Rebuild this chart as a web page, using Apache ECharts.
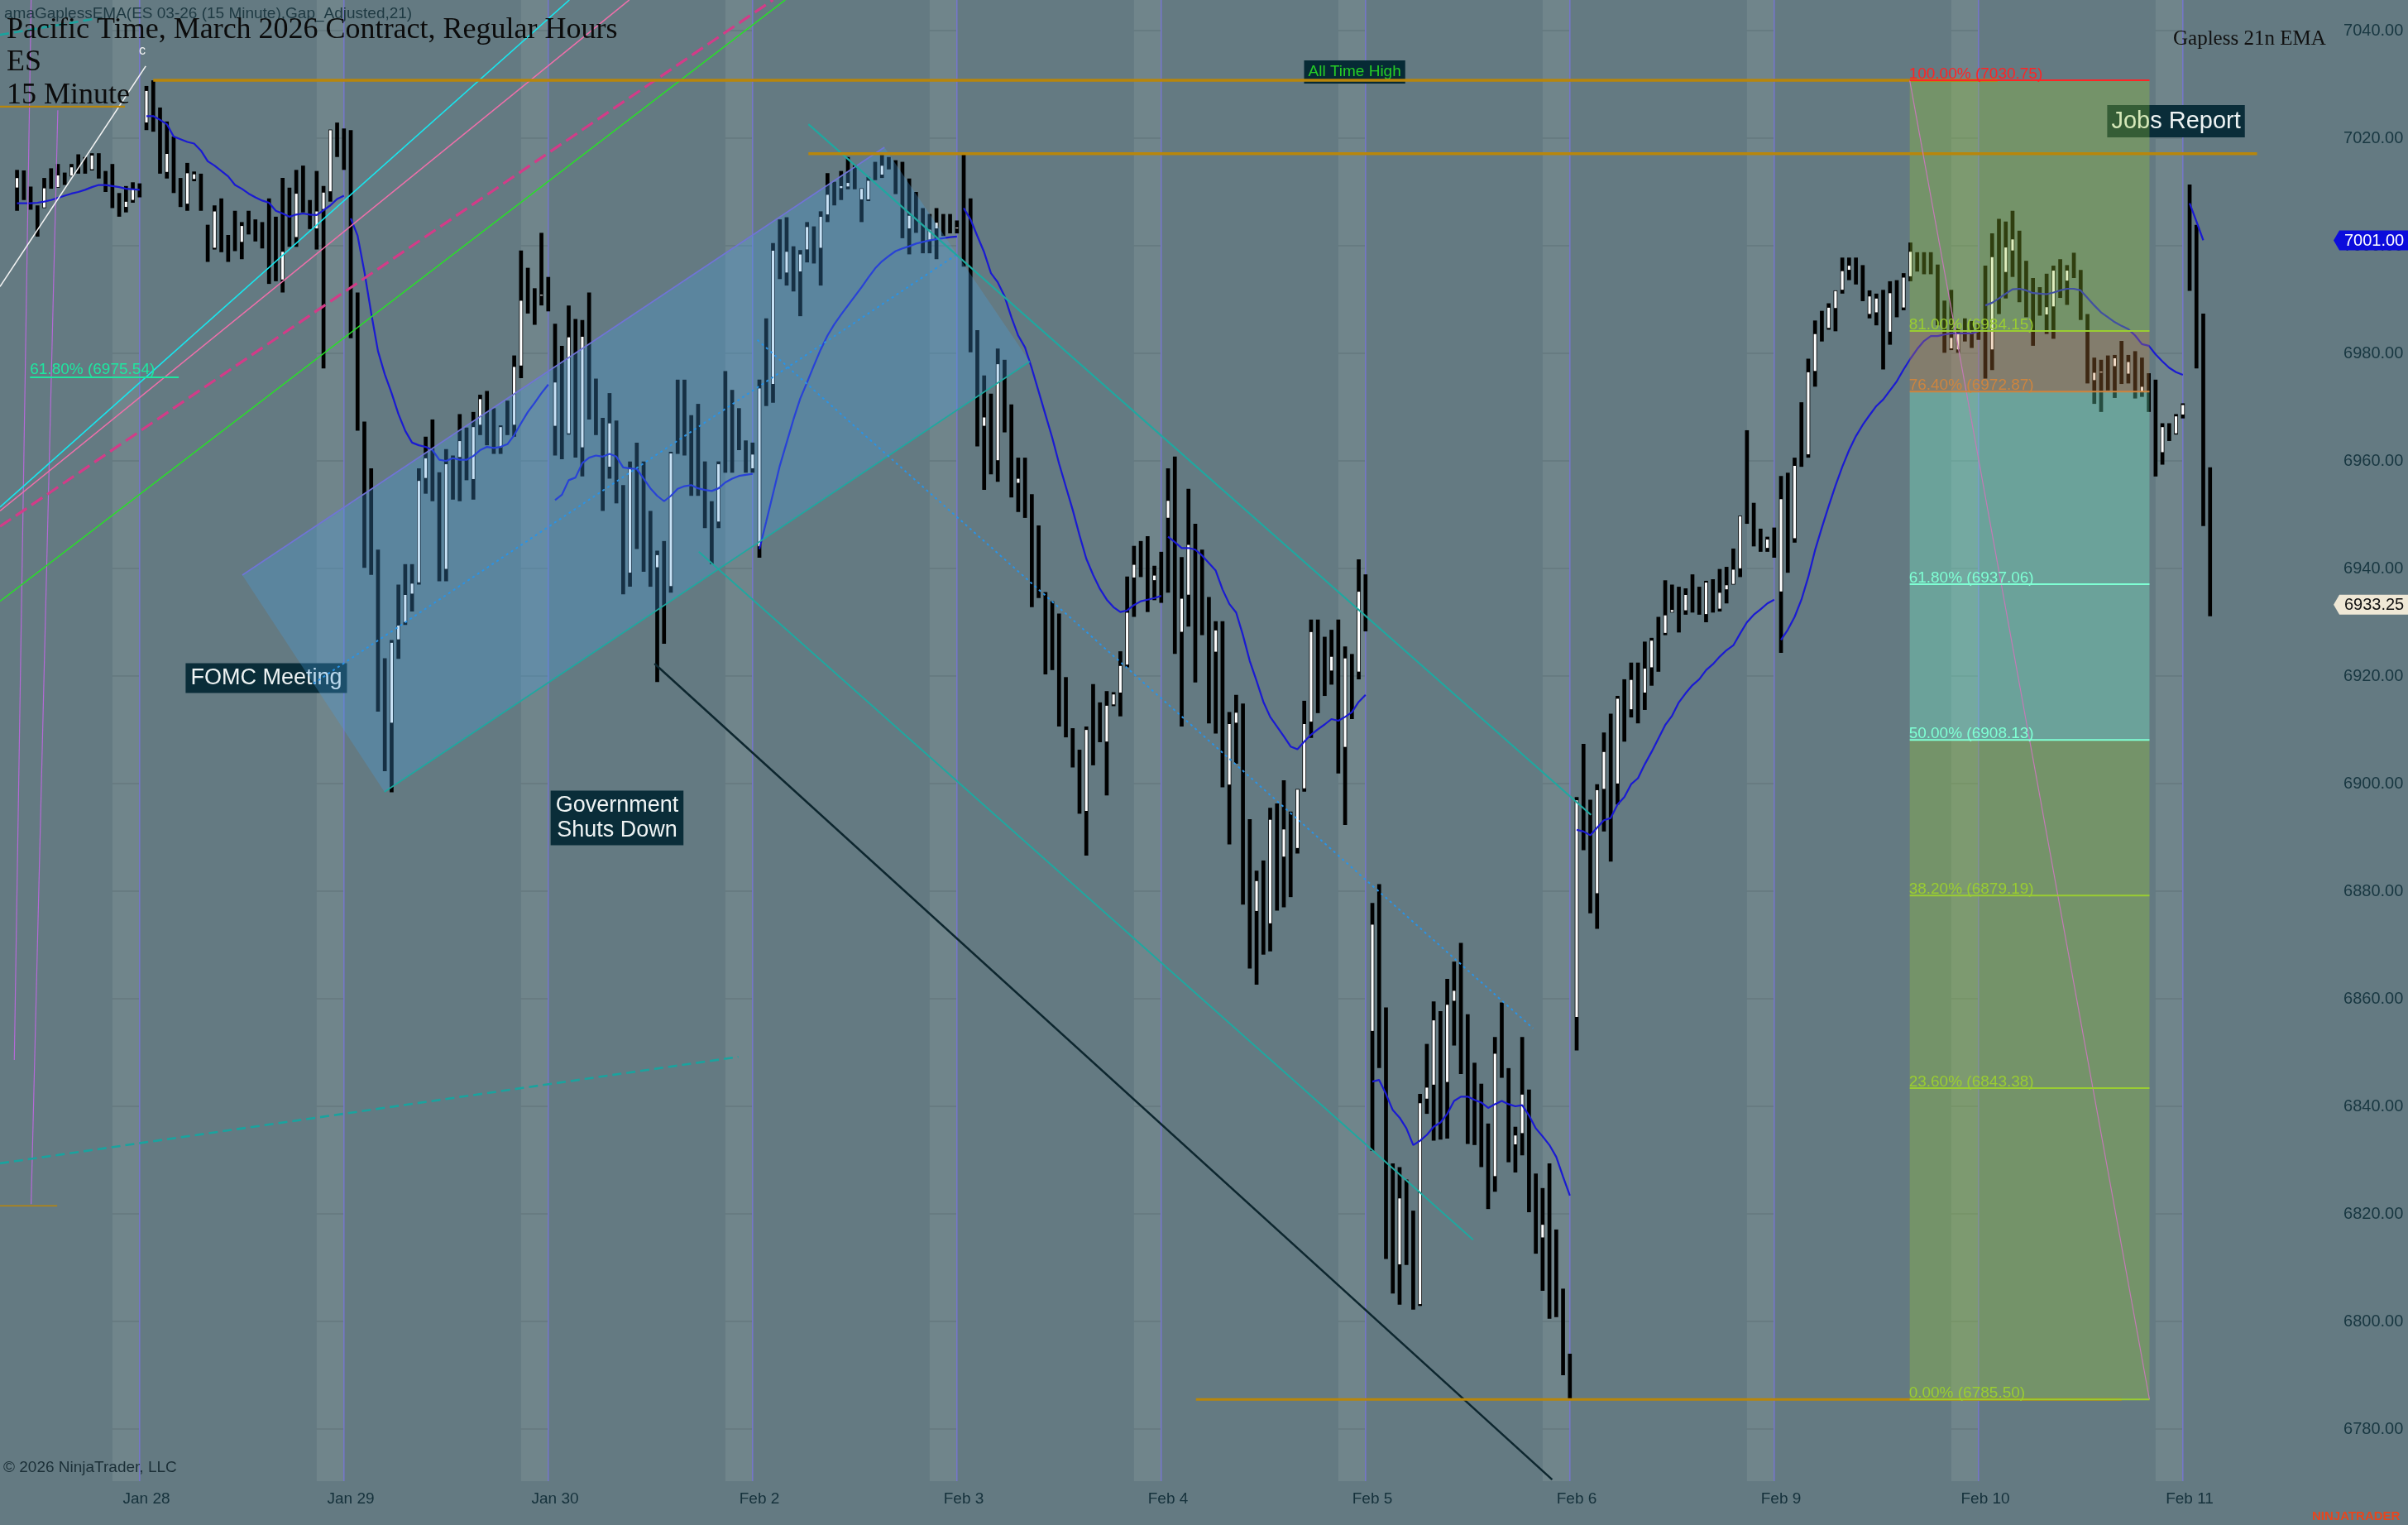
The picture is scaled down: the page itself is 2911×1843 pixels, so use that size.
<!DOCTYPE html>
<html><head><meta charset="utf-8">
<script src="https://cdn.jsdelivr.net/npm/echarts/dist/echarts.min.js"></script>
<style>html,body{margin:0;padding:0;background:#647a82;overflow:hidden}#c{width:2911px;height:1843px}</style>
</head><body><div id="c"></div><script>
// ---------------- DATA ----------------
const dayLabels = ['Jan 27','Jan 28','Jan 29','Jan 30','Feb 2','Feb 3','Feb 4','Feb 5','Feb 6','Feb 9','Feb 10','Feb 11'];
const dayFirstBar = [11,0,0,0,0,0,0,0,0,0,0,0];
const priceTicks = [6780,6800,6820,6840,6860,6880,6900,6920,6940,6960,6980,7000,7020,7040];
// bars: [high, low] (down bar) or [high, low, open, close]
const barsJan27 = [[7014.1,7006.5,7010.7,7012.7],[7014.0,7008.5],[7011.0,7006.7],[7007.5,7001.7],[7012.6,7007.0,7007.0,7010.8],[7014.4,7010.6],[7015.2,7010.8,7010.8,7013.2],[7013.6,7011.3],[7015.2,7012.9,7012.9,7014.7],[7017.0,7013.4],[7016.5,7013.4],[7017.2,7014.0,7014.1,7016.9],[7017.2,7012.5],[7013.9,7010.0],[7015.2,7007.0],[7009.8,7005.4],[7011.1,7006.2,7007.1,7008.3],[7011.8,7008.0,7008.4,7010.6],[7011.6,7009.0]];
const barsJan28 = [[7029.7,7021.5,7022.8,7028.9],[7030.75,7021.2],[7025.7,7013.4],[7023.1,7012.5,7013.6,7017.2],[7020.3,7009.8],[7012.6,7007.2],[7015.4,7006.5,7007.7,7013.6],[7013.8,7012.0,7012.3,7013.4],[7013.4,7006.5],[7003.9,6997.0],[7007.5,6999.3,6999.5,7006.5],[7008.8,6998.8],[7002.0,6997.0],[7006.5,6999.0],[7004.4,6997.5,7000.6,7003.8],[7006.5,7002.1],[7004.9,7000.8],[7004.4,6999.5],[7008.8,6992.9],[7005.4,6993.4],[7012.6,6991.3,6993.6,6999.0],[7010.8,6999.8],[7014.1,6999.8,7001.5,7009.8],[7014.9,7006.2],[7008.5,7003.1],[7013.9,6999.3,7003.1,7006.5],[7011.1,6977.2,7006.7,7010.0],[7021.6,7008.2,7010.0,7021.6],[7022.9,7016.5],[7021.8,7014.1]];
const barsJan29 = [[7021.5,6982.8],[6991.3,6965.6],[6967.3,6940.1],[6958.6,6938.8],[6943.5,6913.4],[6923.3,6902.3],[6926.7,6898.4,6911.2,6926.3],[6937.0,6923.2,6926.7,6929.5],[6940.8,6929.5,6929.9,6935.2],[6940.8,6932.0,6935.2,6937.3],[6958.6,6937.0,6937.3,6956.4],[6964.5,6953.9,6956.7,6960.6],[6967.7,6952.5],[6957.9,6937.6],[6962.2,6937.6,6939.8,6959.5],[6961.0,6952.8],[6968.7,6952.5,6960.6,6963.8],[6966.2,6956.4],[6969.1,6952.8,6956.5,6966.4],[6972.3,6964.8,6966.6,6971.6],[6973.0,6962.9],[6969.8,6961.3],[6966.6,6961.3,6962.4,6966.4],[6971.2,6964.8],[6979.6,6964.5,6966.6,6977.6],[6999.1,6975.4,6977.6,6989.9],[6995.9,6987.4],[6992.1,6985.3],[7002.4,6988.9,6990.6,6991.0],[6994.2,6987.8]];
const barsJan30 = [[6985.5,6961.0,6966.4,6974.7],[6981.4,6960.3],[6988.9,6964.9,6965.0,6983.1],[6986.4,6960.6],[6986.2,6957.1,6962.4,6983.2],[6991.3,6967.7],[6975.3,6964.8],[6968.0,6950.7],[6972.6,6956.7,6958.8,6967.1],[6967.5,6952.1],[6955.5,6935.2],[6959.9,6936.6,6939.1,6958.8],[6963.4,6943.6],[6959.9,6939.4],[6950.7,6936.6],[6943.3,6918.9,6940.1,6942.6],[6945.1,6926.0],[6961.7,6935.5,6936.6,6961.5],[6975.1,6961.3],[6975.1,6961.0],[6968.5,6953.5],[6970.6,6953.5],[6959.9,6947.5],[6952.5,6940.8],[6959.9,6947.5,6948.6,6959.5],[6976.7,6957.8],[6973.2,6957.8],[6969.8,6962.0],[6963.8,6957.8],[6963.4,6957.8,6958.5,6961.3]];
const barsFeb2 = [[6975.1,6942.0,6944.0,6973.6],[6986.5,6970.2],[7000.5,6970.8,6974.2,6999.2],[7004.9,6993.8],[7005.3,6992.6,6994.9,6999.0],[6999.9,6991.5],[6999.2,6986.9,6995.1,6998.5],[7004.4,6996.9,6999.2,7003.6],[7003.6,6996.7],[7006.4,6992.6,6999.5,7005.5],[7013.5,7004.4,7005.7,7009.6],[7011.9,7007.5],[7013.9,7008.5,7010.6,7011.2],[7016.5,7010.5,7010.9,7011.8],[7015.0,7010.5],[7010.7,7004.4,7008.5,7010.7],[7012.8,7008.3,7008.5,7012.2],[7015.6,7012.2],[7016.9,7012.6,7013.1,7015.0],[7016.5,7014.2],[7015.9,7009.6],[7015.6,7001.4],[7012.5,6998.4,7003.1,7005.7],[7010.0,7002.4],[7007.0,6998.6],[7005.9,6998.6,7001.0,7003.1],[7007.0,6997.5,7003.1,7004.4],[7005.9,7001.8],[7005.9,7002.3],[7004.7,7002.3,7003.1,7003.5]];
const barsFeb3 = [[7017.0,6996.1],[7008.8,6980.2],[6984.3,6962.7],[6975.9,6954.6,6966.4,6968.2],[6972.5,6957.5],[6980.9,6956.1,6960.0,6978.1],[6978.8,6965.3],[6970.5,6953.2],[6960.6,6950.5,6955.8,6956.8],[6960.6,6949.4],[6953.8,6932.8],[6948.0,6934.5],[6935.6,6920.3],[6933.9,6921.1],[6931.6,6910.6],[6919.8,6908.6],[6910.3,6903.0],[6906.3,6894.4],[6910.6,6886.6,6894.8,6910.1],[6918.5,6903.4],[6915.1,6907.7],[6917.2,6897.8,6907.7,6914.6],[6917.0,6914.4,6914.6,6916.7],[6924.6,6912.5,6916.8,6922.0],[6938.5,6921.6,6922.0,6931.9],[6944.2,6931.0,6938.2,6940.8],[6945.1,6938.4],[6946.0,6931.9],[6940.5,6934.1,6937.7,6938.8],[6943.1,6933.6]];
const barsFeb4 = [[6958.6,6935.5,6949.3,6952.7],[6960.8,6924.1],[6942.1,6910.6,6928.1,6934.5],[6954.8,6929.2,6935.0,6944.5],[6948.3,6918.8],[6943.5,6927.6],[6934.7,6911.2],[6930.2,6909.3,6924.4,6928.6],[6930.2,6899.3],[6913.3,6888.7,6899.7,6911.2],[6916.5,6903.7,6911.2,6913.3],[6914.9,6877.5],[6893.4,6865.6],[6883.8,6862.6,6876.2,6882.0],[6885.7,6868.2],[6895.5,6868.8,6873.9,6893.4],[6896.3,6876.4],[6900.6,6877.0,6886.3,6891.6],[6894.8,6878.9],[6899.0,6887.0,6887.9,6899.0],[6915.4,6898.5,6899.0,6911.2],[6930.5,6908.5,6911.4,6928.3],[6930.5,6913.1],[6927.3,6916.3],[6928.6,6918.4,6920.9,6923.7],[6930.5,6901.9],[6925.5,6892.3,6906.7,6923.4],[6924.1,6912.0],[6941.7,6919.4,6920.7,6935.8],[6938.9,6928.3]];
const barsFeb5 = [[6877.8,6831.7,6853.9,6873.9],[6881.3,6847.1],[6858.4,6811.6],[6829.4,6805.2],[6828.7,6803.1,6810.5,6823.0],[6826.4,6810.5],[6820.6,6802.2],[6842.3,6802.9,6803.1,6840.7],[6851.6,6838.6,6841.3,6843.6],[6859.5,6833.6,6843.9,6856.1],[6857.7,6833.8],[6863.7,6834.0,6844.4,6859.0],[6866.9,6851.3,6859.5,6861.6],[6870.4,6846.0],[6857.1,6833.0],[6848.1,6832.8],[6844.2,6828.7],[6836.8,6820.9],[6852.9,6824.1,6826.9,6849.9],[6859.3,6845.3],[6847.1,6829.6],[6836.2,6827.7,6832.8,6834.7],[6852.9,6830.9,6834.9,6842.3],[6843.1,6820.3],[6827.5,6812.6],[6824.8,6805.7,6815.5,6818.1],[6829.4,6800.5],[6817.1,6800.8],[6806.1,6790.0],[6794.0,6785.5]];
const barsFeb6 = [[6897.5,6850.4,6856.5,6897.0],[6907.4,6887.6],[6897.0,6875.9],[6899.9,6873.0,6879.5,6898.9],[6909.5,6891.1,6898.9,6906.0],[6913.0,6885.5],[6916.3,6896.1,6899.9,6915.9],[6919.4,6907.8],[6922.5,6912.3,6913.7,6919.4],[6922.5,6911.2],[6926.4,6913.7,6916.8,6921.5],[6927.1,6918.2,6921.5,6926.7],[6931.0,6920.8],[6937.8,6927.6,6927.9,6931.4],[6937.0,6931.8,6931.8,6932.4],[6936.6,6928.1],[6936.3,6931.4,6932.1,6935.2],[6938.9,6931.8],[6936.6,6931.4],[6937.7,6930.0,6931.4,6937.5],[6938.0,6931.8],[6939.9,6932.0,6932.4,6935.6],[6940.3,6933.5,6936.0,6937.0],[6943.7,6937.0,6937.0,6939.9],[6949.8,6938.4,6939.9,6949.8],[6965.7,6948.3],[6952.2,6944.1],[6947.4,6943.1],[6945.9,6943.1,6943.7,6945.5],[6947.6,6942.0]];
const barsFeb9 = [[6957.2,6924.3,6935.6,6953.0],[6957.8,6939.2],[6960.6,6944.8,6945.5,6959.2],[6970.9,6958.9],[6979.0,6960.6,6961.1,6976.6],[6986.1,6973.8,6976.6,6983.7],[6987.9,6982.2],[6989.3,6984.4,6984.6,6988.6],[6991.7,6984.1,6988.3,6991.7],[6997.8,6991.1,6991.7,6995.4],[6997.8,6993.6,6995.4,6996.4],[6997.8,6992.8],[6996.4,6989.7],[6991.7,6986.5,6987.2,6990.7],[6991.1,6985.2,6987.5,6990.3],[6991.8,6977.0],[6993.4,6981.6,6983.9,6991.3],[6993.6,6986.7],[6994.9,6988.0,6988.4,6994.2],[7000.6,6993.4,6994.2,6999.0],[6998.8,6995.2],[6998.8,6994.7],[6998.8,6994.7],[6996.5,6985.2],[6989.8,6980.1],[6991.8,6980.6,6980.8,6983.0],[6984.6,6980.1,6980.6,6983.9],[6986.5,6982.2],[6986.0,6981.0],[6985.5,6982.5]];
const barsFeb10 = [[6996.3,6975.3],[7002.3,6976.9,6980.6,6998.0],[7005.0,6987.3],[7004.5,6990.2,6995.0,6999.8],[7006.5,6994.2,6999.0,7001.3],[7002.8,6989.5],[6997.2,6986.7],[6994.0,6981.4],[6992.3,6987.0],[6994.8,6983.6,6987.1,6988.7],[6996.3,6982.7,6988.6,6995.5],[6997.5,6990.3],[6996.4,6989.0,6993.4,6995.5],[6998.7,6994.0],[6995.5,6986.2],[6987.3,6974.4],[6979.2,6970.6,6974.9,6976.5],[6978.8,6969.1,6976.3,6976.7],[6979.6,6973.1],[6979.7,6971.7,6977.5,6979.2],[6982.3,6974.3],[6979.7,6974.4,6976.1,6978.5],[6980.4,6971.6],[6979.2,6971.9,6972.7,6973.9],[6976.3,6969.1],[6975.1,6957.1],[6967.0,6959.3,6961.5,6966.4],[6967.0,6963.7],[6968.7,6964.9,6965.0,6968.4],[6970.7,6967.9,6968.5,6970.5]];
const barsFeb11 = [[7011.4,6991.6],[7003.9,6977.2],[6987.4,6947.9],[6958.8,6931.1,6957.5,6933.25]];

const emaJan27 = [7007.9,7007.9,7007.9,7008.0,7008.2,7008.5,7008.9,7009.3,7009.7,7010.0,7010.4,7010.9,7011.3,7011.3,7011.1,7010.9,7010.6,7010.5,7010.4];
const emaJan28 = [7024.1,7024.1,7023.4,7022.6,7020.3,7019.8,7019.3,7019.0,7017.7,7015.7,7014.9,7013.9,7012.9,7011.3,7010.6,7009.7,7009.0,7008.4,7008.0,7006.5,7006.0,7005.4,7005.8,7006.0,7005.8,7005.7,7006.6,7007.5,7008.7,7009.3];
const emaJan29 = [7005.1,7001.9,6995.2,6987.5,6980.4,6976.1,6972.6,6968.7,6965.6,6963.4,6962.9,6962.6,6962.0,6960.2,6960.0,6960.5,6960.2,6960.2,6960.9,6962.0,6962.6,6962.4,6962.6,6963.1,6964.8,6967.0,6969.1,6970.8,6972.6,6974.2];
const emaJan30 = [6952.7,6953.7,6956.4,6956.9,6959.6,6960.6,6961.0,6960.8,6961.3,6960.8,6958.8,6958.6,6958.5,6956.7,6954.9,6953.5,6952.5,6953.5,6954.8,6955.3,6955.5,6954.9,6954.6,6954.4,6954.9,6956.0,6956.7,6957.2,6957.4,6957.6];
const emaFeb2 = [6943.6,6948.7,6953.9,6959.1,6963.4,6967.7,6971.6,6974.6,6977.7,6980.7,6983.3,6985.4,6987.2,6988.9,6990.6,6992.3,6994.1,6995.8,6997.1,6998.1,6999.0,6999.5,6999.9,7000.4,7000.7,7001.0,7001.2,7001.4,7001.6,7001.7];
const emaFeb3 = [7007.0,7004.9,7001.8,6998.8,6994.9,6993.2,6990.6,6986.7,6983.3,6981.1,6977.2,6972.9,6968.6,6964.3,6959.5,6955.2,6950.9,6946.2,6941.8,6938.8,6936.2,6934.2,6932.8,6931.9,6932.2,6933.2,6933.9,6934.2,6934.5,6934.9];
const emaFeb4 = [6945.9,6944.9,6943.8,6943.8,6943.5,6942.4,6941.0,6939.6,6936.1,6933.4,6931.8,6927.6,6922.8,6919.1,6915.2,6912.4,6910.6,6908.8,6906.9,6906.4,6907.8,6909.1,6910.1,6911.0,6912.0,6911.7,6912.4,6913.3,6915.2,6916.5];
const emaFeb5 = [6844.6,6844.9,6842.3,6839.3,6837.9,6835.9,6832.8,6833.6,6834.7,6836.2,6837.0,6838.6,6841.0,6841.8,6841.8,6841.2,6840.7,6839.7,6840.4,6841.0,6840.4,6840.0,6840.2,6838.3,6835.9,6834.4,6832.8,6830.6,6826.9,6823.4];
const emaFeb6 = [6891.4,6891.1,6890.4,6891.8,6893.2,6893.6,6896.1,6897.5,6899.9,6901.0,6903.6,6905.9,6908.4,6910.9,6912.6,6915.1,6916.8,6918.3,6919.4,6921.1,6922.2,6923.6,6924.8,6925.7,6927.9,6930.0,6931.4,6932.4,6933.5,6934.2];
const emaFeb9 = [6926.7,6928.6,6931.0,6934.2,6938.4,6943.4,6947.6,6951.6,6955.4,6958.9,6962.0,6964.6,6966.7,6968.5,6970.2,6971.4,6973.1,6974.8,6977.0,6979.0,6980.8,6982.3,6983.2,6983.2,6983.5,6983.7,6983.7,6983.7,6983.7,6984.1];
const emaFeb10 = [6988.9,6989.4,6990.2,6991.1,6991.9,6992.0,6991.7,6991.2,6991.1,6991.0,6991.3,6991.7,6992.0,6992.0,6991.7,6990.3,6988.9,6987.6,6986.7,6985.8,6985.1,6984.5,6983.3,6981.7,6981.4,6979.8,6978.5,6977.3,6976.5,6976.0];
const emaFeb11 = [7007.9,7004.5,7001.0];

// drawings: endpoints as [bar index, price]
const lineWhiteC = [[-0.5,6992.4],[20.9,7033.4]];
const lineCyan = [[-0.5,6951.4],[83.1,7045.7]];
const linePink = [[-0.5,6950.7],[91.9,7045.7]];
const lineDashedPink = [[-0.5,6947.8],[113.0,7045.7]];
const lineGreen = [[-0.5,6933.9],[114.8,7045.7]];
const lineVioletA = [[4.07,7045.7],[1.6,6848.6]];
const lineVioletB = [[7.99,7025.2],[4.07,6821.8]];
const lineTealDashLow = [[-0.5,6829.4],[107.9,6849.2]];
const lineTealDashTop = [[-0.5,7039.2],[13.9,7042.3]];
const ascUpper = [[35.08,6938.77],[129.35,7018.31]];
const ascLower = [[55.95,6898.46],[150.69,6978.46]];
const ascMid = [[45.52,6918.6],[140.02,6998.4]];
const ascChannel = [[35.08,6938.77,129.35,7018.31,150.69,6978.46,55.95,6898.46]];
const descUpper = [[118.2,7022.6],[233.1,6894.2]];
const descMid = [[110.7,6982.5],[224.6,6854.5]];
const descLower = [[102.1,6943.1],[215.8,6815.2]];
const lineBlack = [[95.6,6922.3],[227.4,6770.6]];
const levelATH = [[22.0,7030.75],[292.8,7030.75]];
const level7017 = [[118.2,7017.1],[330.9,7017.1]];
const levelLow = [[175.1,6785.5],[311.0,6785.5]];
const levelPrevHigh = [[-0.5,7025.85],[17.85,7025.85]];
const levelShortLow = [[-0.5,6821.5],[7.9,6821.5]];
const fibLeft = [[3.9,25.74,6975.54,61.8]];
const fibRange = [279.9,315.1];
const fibLevels = [[100,7030.75],[81,6984.15],[76.4,6972.87],[61.8,6937.06],[50,6908.13],[38.2,6879.19],[23.6,6843.38],[0,6785.50]];
const notePoints = [[38.6,6919.6],[90.1,6893.6],[319.0,7023.15]];
const noteTexts = ['FOMC Meeting','Government\nShuts Down','Jobs Report'];
const athPoint = [[198.4,7032.3]];
const athText = 'All Time High';
const cPoint = [[20.4,7036.2]];

// ---------------- LAYOUT ----------------
const BARS_PER_DAY = 30, OFFSET = 9, N_CATS = 343;
const PLOT_TOP = 7045.69, PLOT_BOTTOM = 6770.31;
const idx = (D, j) => BARS_PER_DAY * D + j - OFFSET;
const sessionTimes = [];
for (let j = 0; j < BARS_PER_DAY; j++) {
  const m = 6 * 60 + 30 + 15 * (j + 1);
  sessionTimes.push(String(Math.floor(m / 60)).padStart(2, '0') + ':' + String(m % 60).padStart(2, '0'));
}
const categories = [];
for (let i = 0; i < N_CATS; i++) {
  const t = i + OFFSET, D = Math.floor(t / BARS_PER_DAY), j = t % BARS_PER_DAY;
  categories.push(dayLabels[D] + ' ' + sessionTimes[j]);
}
const dayBars = [barsJan27,barsJan28,barsJan29,barsJan30,barsFeb2,barsFeb3,barsFeb4,barsFeb5,barsFeb6,barsFeb9,barsFeb10,barsFeb11];
const dayEma = [emaJan27,emaJan28,emaJan29,emaJan30,emaFeb2,emaFeb3,emaFeb4,emaFeb5,emaFeb6,emaFeb9,emaFeb10,emaFeb11];
const candles = [];
dayBars.forEach((bars, D) => bars.forEach((b, m) => {
  const h = b[0], l = b[1], o = b.length > 2 ? b[2] : h, c = b.length > 2 ? b[3] : l;
  candles.push([idx(D, dayFirstBar[D] + m), o, c, l, h]);
}));
const bands = [];
for (let D = 0; D < 11; D++) bands.push([idx(D, 25), idx(D, 29)]);

const FONT = '"Liberation Sans", Arial, sans-serif';
const SERIF = '"Liberation Serif", "Times New Roman", serif';

const series = [];
series.push({
  type: 'custom', xAxisIndex: 1, z: 1, silent: true, data: bands,
  renderItem: (p, api) => {
    const a = api.coord([api.value(0), PLOT_TOP]), b = api.coord([api.value(1), PLOT_BOTTOM]);
    const kids = [{type: 'rect', shape: {x: a[0], y: a[1], width: b[0] - a[0], height: b[1] - a[1]}, style: {fill: '#70858b'}}];
    priceTicks.forEach(v => {
      const y = api.coord([0, v])[1];
      kids.push({type: 'line', shape: {x1: a[0], y1: y, x2: b[0], y2: y}, style: {stroke: 'rgba(88,106,113,0.7)', lineWidth: 1}});
    });
    kids.push({type: 'line', shape: {x1: b[0], y1: a[1], x2: b[0], y2: b[1]}, style: {stroke: '#7676cc', lineWidth: 1.5}});
    return {type: 'group', children: kids};
  }
});
series.push({
  type: 'custom', xAxisIndex: 1, z: 2, silent: true, data: notePoints.map((p, k) => [p[0], p[1], k]),
  renderItem: (p, api) => {
    const c = api.coord([api.value(0), api.value(1)]);
    const k = api.value(2);
    return {type: 'text', x: c[0], y: c[1], style: {text: noteTexts[k], fill: '#eef3f3', font: (k === 2 ? 29 : 27) + 'px ' + FONT, align: 'center', verticalAlign: 'middle', backgroundColor: '#0a2d39', padding: k === 2 ? [4, 5] : [3, 6], lineHeight: k === 2 ? 31 : 30}};
  }
});
series.push({
  type: 'custom', xAxisIndex: 1, z: 3, silent: true, data: candles,
  renderItem: (p, api) => {
    const x = api.value(0), o = api.value(1), c = api.value(2), l = api.value(3), h = api.value(4);
    const bw = api.size([1, 0])[0];
    const pH = api.coord([x, h]), pL = api.coord([x, l]);
    const wB = bw * 0.57;
    const kids = [{type: 'rect', shape: {x: pH[0] - wB / 2, y: pH[1], width: wB, height: Math.max(pL[1] - pH[1], 2)}, style: {fill: '#000'}}];
    if (c > o) {
      const pO = api.coord([x, o]), pC = api.coord([x, c]);
      const wW = bw * 0.38;
      kids.push({type: 'rect', shape: {x: pC[0] - wW / 2, y: pC[1] + 0.8, width: wW, height: Math.max(pO[1] - pC[1] - 1.6, 1)}, style: {fill: '#fff'}});
    }
    return {type: 'group', children: kids};
  }
});
dayEma.forEach((arr, D) => series.push({
  type: 'line', xAxisIndex: 1, z: 4, silent: true, showSymbol: false, symbol: 'none',
  data: arr.map((v, m) => [idx(D, dayFirstBar[D] + m), v]),
  lineStyle: {color: '#1a1ad2', width: 2.2}
}));
series.push({
  type: 'custom', xAxisIndex: 1, z: 5, silent: true, data: ascChannel,
  renderItem: (p, api) => {
    const pts = [];
    for (let k = 0; k < 4; k++) pts.push(api.coord([api.value(2 * k), api.value(2 * k + 1)]));
    return {type: 'polygon', shape: {points: pts}, style: {fill: 'rgba(74,159,224,0.30)'}};
  }
});
const fibColors = ['#ff2424', '#9acd32', '#cd853f', '#7fffd4', '#7fffd4', '#9acd32', '#9acd32', '#9acd32'];
const fibFillColors = ['', 'rgba(154,205,50,0.3)', 'rgba(205,133,63,0.3)', 'rgba(127,255,212,0.3)', 'rgba(127,255,212,0.3)', 'rgba(154,205,50,0.3)', 'rgba(154,205,50,0.3)', 'rgba(154,205,50,0.3)'];
const fibZones = [];
for (let k = 0; k < fibLevels.length - 1; k++) fibZones.push([fibRange[0], fibRange[1], fibLevels[k][1], fibLevels[k + 1][1], k + 1]);
series.push({
  type: 'custom', xAxisIndex: 1, z: 5, silent: true, data: fibZones,
  renderItem: (p, api) => {
    const a = api.coord([api.value(0), api.value(2)]), b = api.coord([api.value(1), api.value(3)]);
    return {type: 'rect', shape: {x: a[0], y: a[1], width: b[0] - a[0], height: b[1] - a[1]}, style: {fill: fibFillColors[api.value(4)]}};
  }
});
series.push({
  type: 'custom', xAxisIndex: 1, z: 5, silent: true, data: athPoint,
  renderItem: (p, api) => {
    const c = api.coord([api.value(0), api.value(1)]);
    return {type: 'text', x: c[0], y: c[1], style: {text: athText, fill: '#26cc26', font: '19px ' + FONT, align: 'center', verticalAlign: 'middle', backgroundColor: '#062a35', padding: [3, 5], lineHeight: 22}};
  }
});
function seg(data, color, width, type, z) {
  series.push({type: 'line', xAxisIndex: 1, z: z || 6, silent: true, showSymbol: false, symbol: 'none', data: data,
    lineStyle: {color: color, width: width, type: type || 'solid', cap: 'butt'}});
}
seg(lineVioletA, '#b46ad6', 1.2);
seg(lineVioletB, '#b46ad6', 1.2);
seg(lineWhiteC, '#f4f4f4', 1.6);
seg(lineCyan, '#18e6ee', 1.6);
seg(linePink, '#ef70aa', 1.6);
seg(lineDashedPink, '#d23c88', 3.2, [16, 7]);
seg(lineGreen, '#28e028', 1.6);
seg(lineTealDashLow, '#1aa39e', 2.6, [11, 6]);
seg(lineTealDashTop, '#1aa39e', 2.6, [11, 6]);
seg(ascUpper, '#7074d6', 1.6);
seg(ascLower, '#1fa8a0', 1.6);
seg(ascMid, '#2a93e6', 2, [3, 4]);
seg(descUpper, '#1fa8a0', 2.2);
seg(descMid, '#2a93e6', 2, [3, 4]);
seg(descLower, '#1fa8a0', 2);
seg(lineBlack, '#0d262e', 2.5);
seg(levelATH, '#b8860b', 3.5);
seg(level7017, '#b8860b', 3.5);
seg(levelLow, '#b8860b', 3.2);
seg(levelPrevHigh, '#b8860b', 2.2);
seg(levelShortLow, '#b8860b', 1.4);
seg([[fibRange[0], fibLevels[0][1]], [fibRange[1], fibLevels[fibLevels.length - 1][1]]], '#c47ab6', 1.2);
const fibLineData = fibLevels.map((f, k) => [fibRange[0], fibRange[1], f[1], f[0], k]);
series.push({
  type: 'custom', xAxisIndex: 1, z: 7, silent: true, data: fibLineData,
  renderItem: (p, api) => {
    const a = api.coord([api.value(0), api.value(2)]), b = api.coord([api.value(1), api.value(2)]);
    const col = fibColors[api.value(4)];
    return {type: 'group', children: [
      {type: 'line', shape: {x1: a[0], y1: a[1], x2: b[0], y2: b[1]}, style: {stroke: col, lineWidth: 2}},
      {type: 'text', x: a[0] - 1, y: a[1] + 2, style: {text: api.value(3).toFixed(2) + '% (' + api.value(2).toFixed(2) + ')', fill: col, font: '19px ' + FONT, align: 'left', verticalAlign: 'bottom'}}
    ]};
  }
});
series.push({
  type: 'custom', xAxisIndex: 1, z: 7, silent: true, data: fibLeft,
  renderItem: (p, api) => {
    const a = api.coord([api.value(0), api.value(2)]), b = api.coord([api.value(1), api.value(2)]);
    return {type: 'group', children: [
      {type: 'line', shape: {x1: a[0], y1: a[1], x2: b[0], y2: b[1]}, style: {stroke: '#1fe6a0', lineWidth: 2}},
      {type: 'text', x: a[0], y: a[1], style: {text: api.value(3).toFixed(2) + '% (' + api.value(2).toFixed(2) + ')', fill: '#1fe6a0', font: '19px ' + FONT, align: 'left', verticalAlign: 'bottom'}}
    ]};
  }
});
series.push({
  type: 'custom', xAxisIndex: 1, z: 7, silent: true, data: cPoint,
  renderItem: (p, api) => {
    const c = api.coord([api.value(0), api.value(1)]);
    return {type: 'text', x: c[0], y: c[1], style: {text: 'c', fill: '#f4f4f4', font: '16px ' + FONT, align: 'center', verticalAlign: 'middle'}};
  }
});
const lastBar = candles[candles.length - 1];
const tagData = [[lastBar[0], emaFeb11[emaFeb11.length - 1], 0], [lastBar[0], lastBar[2], 1]];
series.push({
  type: 'custom', xAxisIndex: 1, z: 10, silent: true, clip: false, data: tagData,
  renderItem: (p, api) => {
    const y = api.coord([0, api.value(1)])[1];
    const x0 = p.coordSys.x + p.coordSys.width - 3;
    const k = api.value(2);
    const fill = k === 0 ? '#0c0cdc' : '#efe8d6', tc = k === 0 ? '#ffffff' : '#111111';
    return {type: 'group', children: [
      {type: 'polygon', shape: {points: [[x0, y], [x0 + 7, y - 12], [x0 + 90, y - 12], [x0 + 90, y + 12], [x0 + 7, y + 12]]}, style: {fill: fill}},
      {type: 'text', x: x0 + 49, y: y + 1, style: {text: api.value(1).toFixed(2), fill: tc, font: '20px ' + FONT, align: 'center', verticalAlign: 'middle'}}
    ]};
  }
});

const option = {
  animation: false,
  backgroundColor: '#647a82',
  grid: {left: -3.3, top: 0, width: 2827.35, height: 1790, containLabel: false},
  xAxis: [{
    type: 'category', data: categories, boundaryGap: true, position: 'bottom',
    axisLine: {show: false}, axisTick: {show: false}, splitLine: {show: false},
    axisLabel: {interval: 0, margin: 12, color: '#15313b', fontSize: 19, fontFamily: FONT,
      formatter: v => (v.endsWith(' ' + sessionTimes[0]) && !v.startsWith(dayLabels[0])) ? v.slice(0, v.length - 6) : ''}
  }, {
    type: 'value', min: -0.5, max: N_CATS - 0.5, show: false
  }],
  yAxis: {
    type: 'value', position: 'right', min: PLOT_BOTTOM, max: PLOT_TOP,
    axisLine: {show: false}, axisTick: {show: false, customValues: priceTicks}, splitLine: {show: false},
    axisLabel: {margin: 9, color: '#183741', fontSize: 20, fontFamily: FONT, customValues: priceTicks, formatter: v => Number(v).toFixed(2)}
  },
  graphic: [
    {type: 'text', x: 5, y: 17, z: 20, style: {text: 'amaGaplessEMA(ES 03-26 (15 Minute),Gap_Adjusted,21)', fill: '#1e3942', font: '19px ' + FONT, verticalAlign: 'middle'}},
    {type: 'text', x: 8, y: 37, z: 20, style: {text: 'Pacific Time, March 2026 Contract, Regular Hours', fill: '#0b0b0b', font: '36px ' + SERIF, verticalAlign: 'middle'}},
    {type: 'text', x: 8, y: 76, z: 20, style: {text: 'ES', fill: '#0b0b0b', font: '36px ' + SERIF, verticalAlign: 'middle'}},
    {type: 'text', x: 8, y: 116, z: 20, style: {text: '15 Minute', fill: '#0b0b0b', font: '36px ' + SERIF, verticalAlign: 'middle'}},
    {type: 'text', x: 2627, y: 47, z: 20, style: {text: 'Gapless 21n EMA', fill: '#111111', font: '25px ' + SERIF, verticalAlign: 'middle'}},
    {type: 'text', x: 4, y: 1774, z: 20, style: {text: '\u00a9 2026 NinjaTrader, LLC', fill: '#1b2f37', font: '19px ' + FONT, verticalAlign: 'middle'}},
    {type: 'text', x: 2795, y: 1833, z: 20, style: {text: 'NINJATRADER', fill: '#e8461e', font: 'bold 15px ' + FONT, verticalAlign: 'middle'}}
  ],
  series: series
};
const chart = echarts.init(document.getElementById('c'), null, {renderer: 'canvas', width: 2911, height: 1843});
chart.setOption(option);
</script></body></html>
